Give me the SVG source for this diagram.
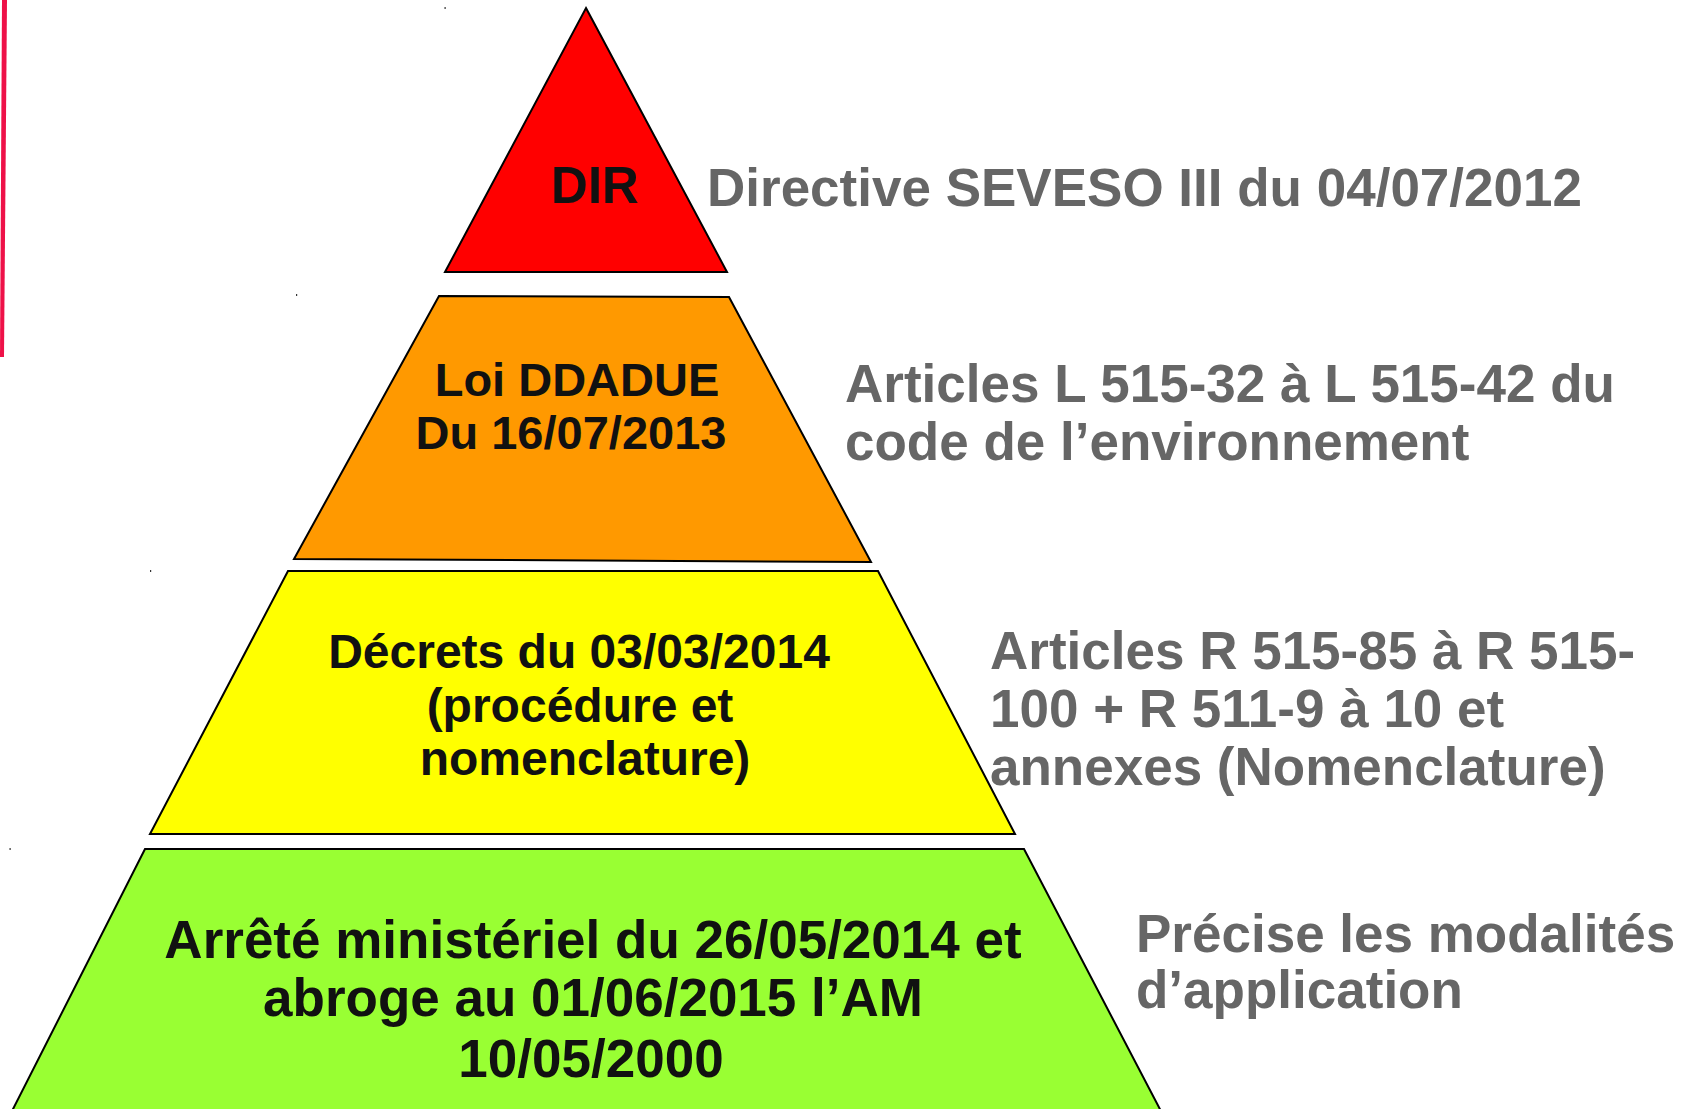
<svg xmlns="http://www.w3.org/2000/svg" width="1687" height="1109" viewBox="0 0 1687 1109">
<style>
.lvl{stroke:#000;stroke-width:2;stroke-linejoin:miter}
.in{font-family:"Liberation Sans",Arial,sans-serif;font-weight:bold;fill:#111;text-anchor:middle}
.side{font-family:"Liberation Sans",Arial,sans-serif;font-weight:bold;fill:#666;font-size:53px}
</style>
<rect x="0" y="0" width="1687" height="1109" fill="#fff"/>
<polygon points="2,0 7,0 4,357 0,357" fill="#ee1148"/>
<g id="dots" fill="#333">
<rect x="444.5" y="7" width="1.2" height="2"/>
<rect x="296" y="294" width="1.2" height="2"/>
<rect x="150" y="570" width="1.2" height="2"/>
<rect x="9.5" y="848" width="1.2" height="2"/>
</g>
<g id="connectors"></g>
<g id="dir">
<polygon class="lvl" fill="#ff0000" points="586,8 727,272 445,272"/>
<text class="in" x="595" y="203" font-size="51">DIR</text>
</g>
<g id="loi">
<polygon class="lvl" fill="#ff9900" points="439,296 729,297 871,562 294,559"/>
<text class="in" x="577" y="396" font-size="47">Loi DDADUE</text>
<text class="in" x="571" y="449" font-size="47">Du 16/07/2013</text>
</g>
<g id="decrets">
<polygon class="lvl" fill="#ffff00" points="288,571 878,571 1015,834 150,834"/>
<text class="in" x="579" y="668" font-size="48">Décrets du 03/03/2014</text>
<text class="in" x="580" y="722" font-size="48">(procédure et</text>
<text class="in" x="585" y="775" font-size="48">nomenclature)</text>
</g>
<g id="arrete">
<polygon class="lvl" fill="#99ff33" points="145,849 1024,849 1163,1115 10,1115"/>
<text class="in" x="593" y="958" font-size="53">Arrêté ministériel du 26/05/2014 et</text>
<text class="in" x="593" y="1016" font-size="53">abroge au 01/06/2015 l’AM</text>
<text class="in" x="591" y="1077" font-size="53">10/05/2000</text>
</g>
<g id="labels">
<text class="side" x="707" y="206">Directive SEVESO III du 04/07/2012</text>
<text class="side" x="845" y="402">Articles L 515-32 à L 515-42 du</text>
<text class="side" x="845" y="460">code de l’environnement</text>
<text class="side" x="990" y="669">Articles R 515-85 à R 515-</text>
<text class="side" x="990" y="727">100 + R 511-9 à 10 et</text>
<text class="side" x="990" y="785">annexes (Nomenclature)</text>
<text class="side" x="1136" y="952">Précise les modalités</text>
<text class="side" x="1136" y="1008">d’application</text>
</g>
</svg>
